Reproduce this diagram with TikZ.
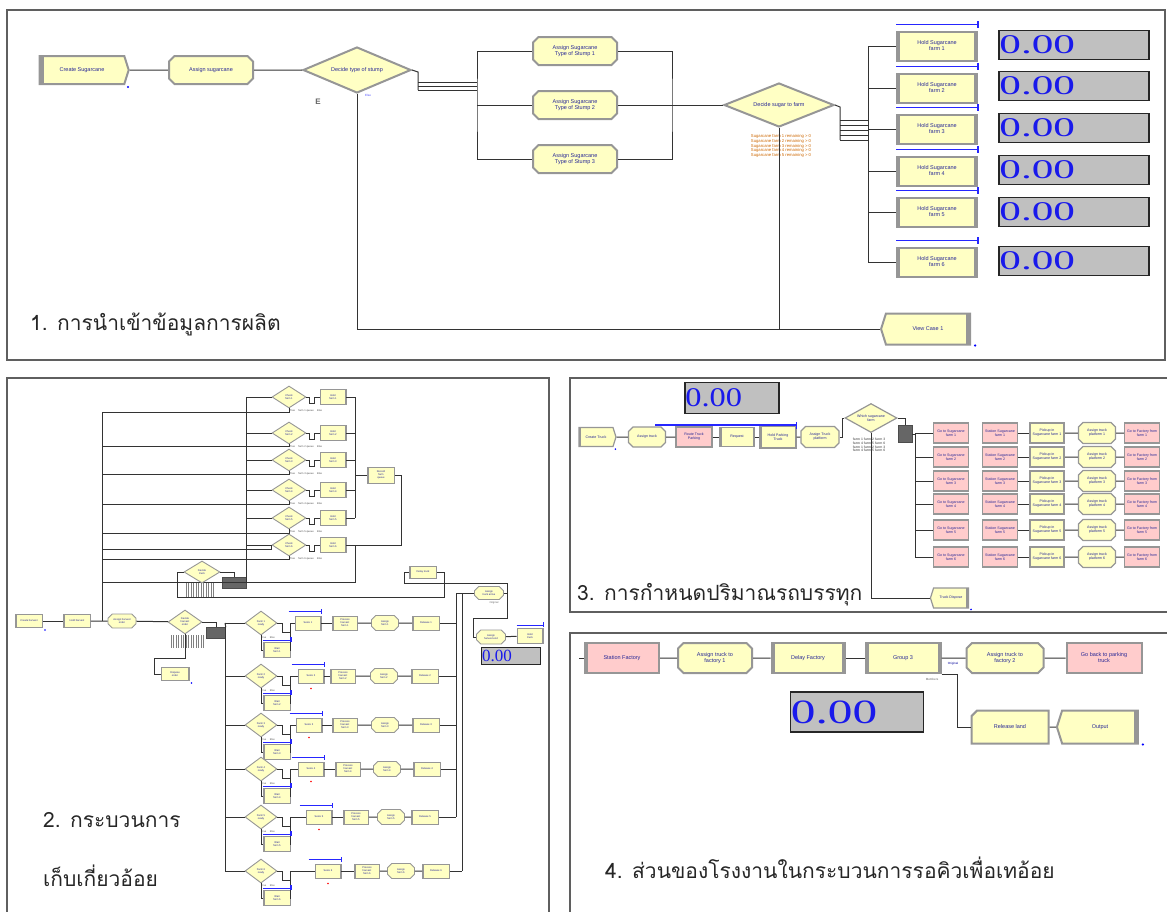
\documentclass[tikz,border=0pt]{standalone}
\usepackage{fontspec}
\usepackage{graphicx}
\setmainfont{Liberation Serif}
\setsansfont{Liberation Sans}
\newfontfamily\thaifont[Script=Thai]{Loma}
\usetikzlibrary{shapes.geometric,shapes.symbols,shapes.misc}

\definecolor{modfill}{RGB}{255,255,196}
\definecolor{modpink}{RGB}{255,204,204}
\definecolor{modedge}{RGB}{150,150,150}
\definecolor{dispfill}{RGB}{192,192,192}
\definecolor{dispblue}{RGB}{25,25,235}
\definecolor{framegray}{RGB}{95,95,95}
\definecolor{labelblue}{RGB}{40,40,150}

\begin{document}
\begin{tikzpicture}[
        x=1pt, y=-1pt,
        wire/.style={draw=black!80, line width=1pt},
        frame/.style={draw=framegray, line width=1.1pt},
        wh/.style 2 args={minimum width=#1pt, minimum height=#2pt},
        module/.style={draw=modedge, line width=2pt, fill=modfill, inner sep=0.5pt,
            align=center, text=labelblue, font=\sffamily\fontsize{5.5}{6}\selectfont},
        small/.style={line width=1.2pt, font=\sffamily\fontsize{3.6}{4}\selectfont,
            chamfered rectangle xsep=1.5pt},
        tiny/.style={line width=0.9pt, font=\sffamily\fontsize{2.6}{3}\selectfont,
            chamfered rectangle xsep=1.2pt},
        pinkfill/.style={fill=modpink},
        leftbar/.style={path picture={\fill[modedge] (path picture bounding box.south west)
            rectangle ([xshift=#1]path picture bounding box.north west);}},
        rightbar/.style={path picture={\fill[modedge] (path picture bounding box.south east)
            rectangle ([xshift=-#1]path picture bounding box.north east);}},
        sidebars/.style={path picture={
            \fill[modedge] (path picture bounding box.south west)
                rectangle ([xshift=#1]path picture bounding box.north west);
            \fill[modedge] (path picture bounding box.south east)
                rectangle ([xshift=-#1]path picture bounding box.north east);}},
        create/.style={module, signal, signal to=east, signal pointer angle=145, leftbar=4pt},
        assign/.style={module, chamfered rectangle, chamfered rectangle xsep=2.5pt},
        decide/.style={module, diamond, shape aspect=2.5},
        proc/.style={module, rectangle, sidebars=3pt},
        station/.style={module, rectangle, pinkfill, leftbar=3pt},
        route/.style={module, rectangle, pinkfill},
        dispose/.style={module, signal, signal to=west, signal pointer angle=145, rightbar=4pt},
        release/.style={module, chamfered rectangle, chamfered rectangle corners=north west,
            chamfered rectangle xsep=6pt},
        display/.style={draw=black!85, line width=1.6pt, fill=dispfill},
        dispval/.style={anchor=west, inner sep=0pt, text=dispblue},
        queue/.style={draw=blue!85!white, line width=1.1pt},
        block/.style={draw=black!70, fill=black!60, line width=0.6pt},
        stripes/.style={inner sep=0pt, path picture={\foreach \k in {0,2.5,...,40}
            \draw[black!50, line width=0.9pt] ([xshift=\k pt]path picture bounding box.south west)
                -- ([xshift=\k pt]path picture bounding box.north west);}},
        note/.style={inner sep=0pt, align=left, font=\sffamily\fontsize{3}{3.4}\selectfont},
        caption/.style={anchor=base west, inner sep=0pt, text=black!85,
            font=\thaifont\fontsize{21}{24}\selectfont}
    ]
    \useasboundingbox (0,0) rectangle (1167,911);

    \draw[frame] (7,10) rectangle (1165,360);
    \draw[frame] (7,378) rectangle (549,925);
    \draw[frame] (570,378) rectangle (1180,612);
    \draw[frame] (570,633) rectangle (1180,925);

    % production input
    \node[create, wh={89}{28}] (crsug) at (82,70) {Create Sugarcane};
    \node[assign, wh={84}{28}] (assug) at (211,70) {Assign sugarcane};
    \node[decide, wh={108}{46}] (dstump) at (357,70) {Decide type of stump};
    \node[note, text=black!60, font=\sffamily\bfseries\fontsize{8}{8}\selectfont] (dstumptag) at (318,102) {E};
    \node[note, text=blue!70] (dstumpelse) at (368,95) {Else};
    \fill[blue] ([shift={(3pt,-2pt)}]crsug.south east) circle (1.2pt);
    \draw[wire] (crsug) -- (assug);
    \draw[wire] (assug) -- (dstump);

    \coordinate (tee1) at (418,72);
    \coordinate (fan1) at (477,105);
    \draw[wire] (dstump.east) -- (tee1) -- ++(0,18);
    \foreach \k in {10,14,18}
        \draw[wire, line width=0.8pt] (tee1) ++(0,\k) -- ++(59,0);

    \foreach \i/\y in {1/51,2/105,3/159}
        \node[assign, wh={84}{28}] (stump\i) at (575,\y) {Assign Sugarcane\\Type of Stump \i};
    \draw[wire] (stump1.west) -| (fan1) |- (stump3.west);
    \draw[wire] (fan1) -- (stump2.west);

    \coordinate (fan2) at (672,105);
    \node[decide, wh={110}{44}] (dfarm) at (779,105) {Decide sugar to farm};
    \draw[wire] (stump1.east) -| (fan2) |- (stump3.east);
    \draw[wire] (stump2.east) -- (dfarm.west);
    \node[note, text=orange!80!black, font=\sffamily\fontsize{4.2}{4.6}\selectfont] (dfarmlbl) at (781,146)
        {Sugarcane farm 1 remaining \textgreater{} 0\\Sugarcane farm 2 remaining \textgreater{} 0\\
         Sugarcane farm 3 remaining \textgreater{} 0\\Sugarcane farm 4 remaining \textgreater{} 0\\
         Sugarcane farm 5 remaining \textgreater{} 0};

    \coordinate (tee2) at (840,107);
    \coordinate (fan3) at (868,150);
    \draw[wire] (dfarm.east) -- (tee2) -- ++(0,33);
    \foreach \k in {13,18,23,28,33}
        \draw[wire, line width=0.8pt] (tee2) ++(0,\k) -- ++(28,0);

    \foreach \i/\y in {1/46,2/88,3/129,4/171,5/212,6/262} {
        \node[proc, wh={80}{29}] (hold\i) at (937,\y) {Hold Sugarcane\\farm \i};
        \draw[queue] ([yshift=6pt]hold\i.north west) -- ([yshift=6pt]hold\i.north east);
        \draw[queue] ([yshift=3pt]hold\i.north east) -- ([yshift=10pt]hold\i.north east);
    }
    \draw[wire] (hold1.west) -| (fan3) |- (hold6.west);
    \foreach \i in {2,...,5}
        \draw[wire] (fan3 |- hold\i.west) -- (hold\i.west);

    \foreach \i/\y in {1/45,2/86,3/128,4/170,5/212,6/261} {
        \node[display, wh={150}{29}] (disp\i) at (1074,\y) {};
        \node[dispval, font=\fontsize{27}{27}\selectfont] (val\i) at ([xshift=1pt]disp\i.west)
            {\scalebox{1.6}[1]{0.00}};
    }

    \node[dispose, wh={89}{31}] (vcase) at (928,329) {View Case 1};
    \coordinate (merge1) at (779,329);
    \draw[wire] (dstump.south) |- (vcase.west);
    \draw[wire] (dfarm.south) -- (merge1);
    \fill[blue] ([shift={(4pt,-2pt)}]vcase.south east) circle (1.3pt);

    \node[caption] (cap1) at (30,330) {1. การนำเข้าข้อมูลการผลิต};

    % harvesting
    \node[proc, tiny, wh={27}{13}, sidebars=1pt] (crhv) at (29,621) {Create harvest};
    \node[proc, tiny, wh={27}{13}, sidebars=1pt] (hvq) at (77,621) {Hold harvest};
    \node[assign, tiny, wh={28}{14}] (ashv) at (122,621) {Assign harvest\\order};
    \node[decide, tiny, wh={34}{24}] (dhv) at (185,622) {Decide\\harvest\\order};
    \fill[blue] ([shift={(2pt,-2pt)}]crhv.south east) circle (0.9pt);
    \draw[wire] (crhv) -- (hvq);
    \draw[wire] (hvq) -- (ashv);
    \draw[wire] (ashv) -- (dhv);

    \coordinate (lv) at (102,412);
    \draw[wire] (lv) -- (lv |- hvq.east);

    \node[block, wh={24}{11}] (ublk) at (234,583) {};
    \foreach \i/\y/\hy in {1/397/412,2/433/446,3/460/474,4/490/504,5/518/533,6/545/559} {
        \node[decide, tiny, wh={34}{22}] (ud\i) at (289,\y) {Check\\farm \i};
        \node[proc, tiny, wh={26}{15}, sidebars=1pt] (ub\i) at (333,\y) {Hold\\farm \i};
        \node[note, text=black!70, font=\sffamily\fontsize{2.6}{3}\selectfont] (udl\i) at (306,{\y+14}) {True \quad farm \i{} queue \quad Else};
        \coordinate (ret\i) at (102,\hy);
        \draw[wire] (ublk.east |- ud\i.west) -- (ud\i.west);
        \draw[wire] (ud\i.south) |- (ret\i);
        \draw[wire] (ud\i.east) -- ++(3,0) -- ++(0,6) -- ++(5,0) |- (ub\i.west);
    }
    \draw[wire] (ublk.east) -- (ublk.east |- ud1.west);
    \coordinate (rv) at (355,475);
    \foreach \i in {1,...,5}
        \draw[wire] (ub\i.east) -- (rv |- ub\i.east);
    \draw[wire] (rv |- ub1.east) -- (rv |- ub5.east);
    \node[proc, tiny, wh={27}{16}, sidebars=1pt] (urec) at (381,475) {Record\\farm\\queue};
    \draw[wire] (rv) -- (urec.west);
    \draw[wire] (urec.east) -- ++(7,0) |- (ub6.east);
    \coordinate (rv2) at (355,582);
    \draw[wire] (ub6.east) -| (rv2) -- (lv |- rv2);
    \coordinate (ret7) at (102,549);
    \draw[wire] (ret7) -| (ud6.west);

    \node[decide, tiny, wh={36}{22}] (ud7) at (202,572) {Decide\\truck};
    \draw[wire] (ud7.east) -| (ublk.north);
    \node[stripes, wh={28}{14}] (ud7lbl) at (200,590) {};
    \node[proc, tiny, wh={27}{12}, sidebars=1pt] (udly) at (423,572) {Delay truck};
    \coordinate (lpc) at (177,597);
    \draw[wire] (udly.east) -- ++(8,0) |- (lpc) |- (ud7.west);

    \node[assign, tiny, wh={29}{13}] (uasg) at (489,593) {Assign\\truck arrive};
    \node[note, text=black!60, font=\sffamily\fontsize{2.6}{3}\selectfont] (uasgl) at (494,603) {Original};
    \node[assign, tiny, wh={29}{14}] (ue) at (491,637) {Assign\\harvest end};
    \node[proc, tiny, wh={26}{15}, sidebars=1pt] (uf) at (530,636) {Hold\\truck};
    \coordinate (lq) at (404,583);
    \coordinate (lr) at (473,618);
    \draw[wire] (uasg.east) -- ++(4,0) coordinate (uasgo) |- (lq) |- (udly.west);
    \draw[wire] (uasgo) |- (lr) |- (ue.west);
    \draw[wire] (ue) -- (uf);
    \draw[queue] ([yshift=3pt]uf.north west) -- ([yshift=3pt]uf.north east);
    \draw[queue] ([yshift=1pt]uf.north east) -- ([yshift=6pt]uf.north east);
    \node[display, wh={59}{17}, line width=1.2pt] (disp9) at (511,656) {};
    \node[dispval, font=\fontsize{17}{17}\selectfont] (val9) at ([xshift=1pt]disp9.west) {0.00};

    \coordinate (rv3) at (456,593);
    \coordinate (rv4) at (462,593);
    \draw[wire] (uasg.west) -- (rv3);

    \node[block, wh={19}{11}] (dblk) at (216,633) {};
    \draw[wire] (dhv.east) -| (dblk.north);
    \node[stripes, wh={34}{13}] (dhvlbl) at (188,641) {};
    \node[proc, tiny, wh={28}{13}, sidebars=1pt] (hvout) at (175,674) {Dispose\\order};
    \fill[blue] ([shift={(2pt,-2pt)}]hvout.south east) circle (0.9pt);
    \coordinate (gq) at (154,658);
    \draw[wire] (dhv.south) |- (gq) |- (hvout.west);
    \coordinate (lv3) at (225,623);
    \draw[wire] (dblk.north east) -- (lv3);

    \foreach \i/\ry/\ax/\bx/\cx/\dx in {1/623/308/345/385/426, 2/676/311/343/384/425,
            3/725/309/345/385/426, 4/769/311/348/387/427, 5/817/319/356/391/425, 6/871/328/367/401/436} {
        \node[decide, tiny, wh={32}{24}] (rdec\i) at (261,\ry) {Farm \i\\ready};
        \node[proc, tiny, wh={27}{15}, sidebars=1pt] (rlow\i) at (277,{\ry+27}) {Wait\\farm \i};
        \node[proc, tiny, wh={26}{14}, sidebars=1pt] (ra\i) at (\ax,\ry) {Seize \i};
        \node[proc, tiny, wh={25}{14}, sidebars=1pt] (rb\i) at (\bx,\ry) {Process\\harvest\\farm \i};
        \node[assign, tiny, wh={27}{15}] (rc\i) at (\cx,\ry) {Assign\\farm \i};
        \node[proc, tiny, wh={27}{14}, sidebars=1pt] (rd\i) at (\dx,\ry) {Release \i};
        \node[note, text=black!65, font=\sffamily\fontsize{2.6}{3}\selectfont] (rdl\i) at (268,{\ry+15}) {True \quad Else};
        \draw[wire] (lv3 |- rdec\i.west) -- (rdec\i.west);
        \draw[wire] (rdec\i.east) -- ++(5,0) -- ++(0,9) -- ++(8,0) coordinate (uu\i) |- (ra\i.west);
        \draw[wire] (rlow\i.east) -| (uu\i);
        \draw[wire] (rdec\i.south) |- (rlow\i.west);
        \draw[wire] (ra\i) -- (rb\i);
        \draw[wire] (rb\i) -- (rc\i);
        \draw[wire] (rc\i) -- (rd\i);
        \draw[queue] ([shift={(-6pt,4pt)}]ra\i.north west) -- ([yshift=4pt]ra\i.north east);
        \draw[queue] ([yshift=2pt]ra\i.north east) -- ([yshift=7pt]ra\i.north east);
        \draw[queue] ([yshift=2pt]rlow\i.north west) -- ([yshift=2pt]rlow\i.north east);
        \draw[queue] ([yshift=0pt]rlow\i.north east) -- ([yshift=5pt]rlow\i.north east);
    }
    \foreach \i in {2,...,6}
        \fill[red] ([yshift=-5pt]ra\i.south) circle (0.8pt);
    \foreach \i in {1,...,5}
        \draw[wire] (rd\i.east) -- (rv3 |- rd\i.east);
    \draw[wire] (rd6.east) -- (rv4 |- rd6.east);
    \draw[wire] (rv3) -- (rv3 |- rd5.east);
    \draw[wire] (rv4) -- (rv4 |- rd6.east);
    \draw[wire] (lv3) -- (lv3 |- rdec6.west);

    \node[caption] (cap2a) at (43,827) {2. กระบวนการ};
    \node[caption] (cap2b) at (43,886) {เก็บเกี่ยวอ้อย};

    % truck loading
    \node[create, small, wh={37}{19}, leftbar=2pt] (crtruck) at (596,437) {Create Truck};
    \node[assign, small, wh={37}{20}] (astruck) at (647,437) {Assign truck};
    \node[route, small, wh={36}{20}] (rtpark) at (694,437) {Route Truck\\Parking};
    \node[proc, small, wh={34}{19}, sidebars=1.5pt] (reqst) at (737,437) {Request};
    \node[proc, small, wh={36}{22}, sidebars=1.5pt] (hdpark) at (778,437) {Hold Parking\\Truck};
    \node[assign, small, wh={38}{21}] (asplat) at (820,437) {Assign Truck\\platform};
    \fill[blue] ([shift={(2pt,-2pt)}]crtruck.south east) circle (0.9pt);
    \draw[wire] (crtruck) -- (astruck);
    \draw[wire] (astruck) -- (rtpark);
    \draw[wire] (rtpark) -- (reqst);
    \draw[wire] (reqst) -- (hdpark);
    \draw[wire] (hdpark) -- (asplat);
    \coordinate (qtruck) at (655,425);
    \draw[queue] (qtruck) -- (hdpark.east |- qtruck);
    \draw[queue] ([yshift=3pt]hdpark.east |- qtruck) -- ([yshift=-4pt]hdpark.east |- qtruck);

    \node[display, wh={94}{31}] (disp7) at (732,398) {};
    \node[dispval, font=\fontsize{27}{27}\selectfont] (val7) at ([xshift=1pt]disp7.west) {\scalebox{1.2}[1]{0.00}};

    \node[decide, small, wh={52}{29}] (dtruck) at (871,418) {Which sugarcane\\farm};
    \draw[wire] (asplat.east) -- ++(3,0) |- (dtruck.west);
    \node[note, text=black!55, font=\sffamily\bfseries\fontsize{3.4}{3.8}\selectfont] (dtrucklbl) at (869,445)
        {farm 1 farm 2 farm 3\\farm 4 farm 5 farm 6\\farm 1 farm 2 farm 3\\farm 4 farm 5 farm 6};
    \node[block, wh={14}{17}] (tblk) at (905,434) {};
    \draw[wire] (dtruck.east) -| (tblk.north);
    \coordinate (fan4) at (915,495);

    \foreach \i/\y in {1/433,2/457,3/481,4/504,5/530,6/557} {
        \node[route, small, wh={35}{20}] (goto\i) at (951,\y) {Go to Sugarcane\\farm \i};
        \node[route, small, wh={35}{20}] (stat\i) at (1000,\y) {Station Sugarcane\\farm \i};
        \node[proc, small, wh={35}{20}, sidebars=1.5pt] (pick\i) at (1047,\y) {Pickup in\\Sugarcane farm \i};
        \node[assign, small, wh={37}{21}] (aplat\i) at (1097,\y) {Assign truck\\platform \i};
        \node[route, small, wh={35}{20}] (gofac\i) at (1142,\y) {Go to Factory from\\farm \i};
        \draw[wire] (fan4 |- goto\i.west) -- (goto\i.west);
        \draw[wire] (stat\i) -- (pick\i);
        \draw[wire] (pick\i) -- (aplat\i);
        \draw[wire] (aplat\i) -- (gofac\i);
    }
    \draw[wire] (tblk.east) -- (fan4 |- tblk.east);
    \draw[wire] (fan4 |- goto1.west) -- (fan4 |- goto6.west);

    \node[dispose, small, wh={38}{20}, rightbar=2pt] (tdisp) at (951,598) {Truck Dispose};
    \draw[wire] (dtruck.south) |- (tdisp.west);
    \fill[blue] ([shift={(2pt,-2pt)}]tdisp.south east) circle (0.9pt);

    \node[caption] (cap3) at (577,600) {3. การกำหนดปริมาณรถบรรทุก};

    % factory queue
    \coordinate (stin) at (579,658);
    \node[station, wh={74}{30}] (stfac) at (622,658) {Station Factory};
    \node[assign, wh={74}{30}] (asfac1) at (715,658) {Assign truck to\\factory 1};
    \node[proc, wh={73}{30}] (dlfac) at (808,658) {Delay Factory};
    \node[proc, wh={75}{30}] (grp) at (903,658) {Group 3};
    \node[assign, wh={77}{30}] (asfac2) at (1005,658) {Assign truck to\\factory 2};
    \node[route, wh={75}{30}] (goback) at (1104,658) {Go back to parking\\truck};
    \draw[wire] (stin) -- (stfac.west);
    \draw[wire] (stfac) -- (asfac1);
    \draw[wire] (asfac1) -- (dlfac);
    \draw[wire] (dlfac) -- (grp);
    \draw[wire] (grp) -- (asfac2);
    \draw[wire] (asfac2) -- (goback);
    \node[note, text=blue!60!black] (grporig) at (953,664) {Original};
    \node[note, text=black!60] (grpmemb) at (932,679) {Members};

    \node[release, wh={77}{33}] (relland) at (1010,727) {Release land};
    \node[dispose, wh={81}{33}] (outsink) at (1100,727) {Output};
    \draw[wire] (grp.south east) -- ++(16,0) |- (relland.west);
    \draw[wire] (relland) -- (outsink);
    \fill[blue] ([shift={(4pt,-2pt)}]outsink.south east) circle (1.2pt);

    \node[display, wh={133}{40}] (disp8) at (857,712) {};
    \node[dispval, font=\fontsize{34}{34}\selectfont] (val8) at ([xshift=1pt]disp8.west) {\scalebox{1.45}[1]{0.00}};

    \node[caption] (cap4) at (605,878) {4. ส่วนของโรงงานในกระบวนการรอคิวเพื่อเทอ้อย};
\end{tikzpicture}
\end{document}
